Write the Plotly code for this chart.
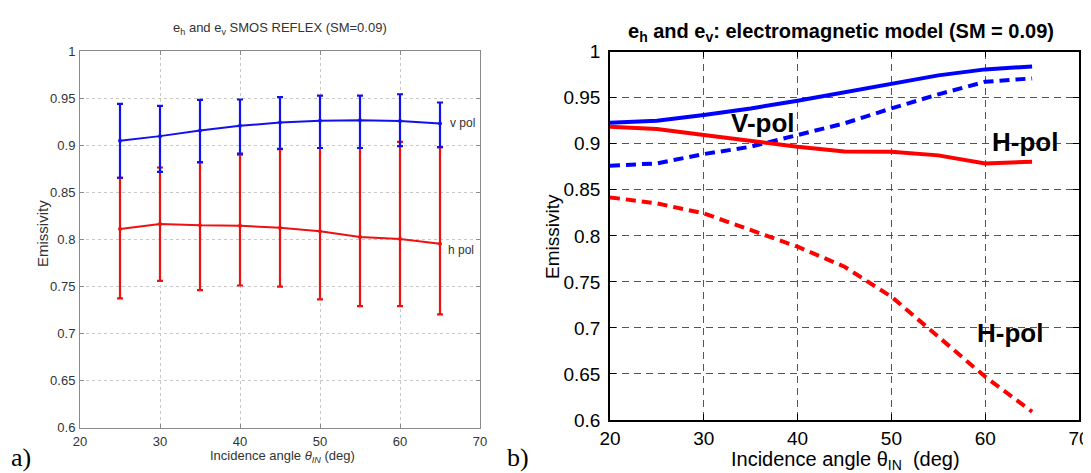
import plotly.graph_objects as go

# ---------------- data ----------------
# a) SMOS REFLEX measurements
smos_angle = [25, 30, 35, 40, 45, 50, 55, 60, 65]
smos_v = [0.9046, 0.9096, 0.9156, 0.9205, 0.9240, 0.9260, 0.9265, 0.9258, 0.9230]
smos_v_hi = [0.9439, 0.9417, 0.9480, 0.9485, 0.9510, 0.9527, 0.9527, 0.9541, 0.9453]
smos_v_lo = [0.8654, 0.8717, 0.8820, 0.8910, 0.8960, 0.8970, 0.8970, 0.8990, 0.8980]
smos_h = [0.8110, 0.8163, 0.8149, 0.8145, 0.8124, 0.8085, 0.8025, 0.8003, 0.7954]
smos_h_hi = [0.8653, 0.8763, 0.8816, 0.8900, 0.8957, 0.8970, 0.8970, 0.9035, 0.8980]
smos_h_lo = [0.7373, 0.7560, 0.7461, 0.7510, 0.7497, 0.7362, 0.7292, 0.7290, 0.7204]

# b) electromagnetic model
model_angle = [20, 25, 30, 35, 40, 45, 50, 55, 60, 65]
model_v_solid = [0.9229, 0.9250, 0.9312, 0.9384, 0.9468, 0.9562, 0.9645, 0.9743, 0.9808, 0.9840]
model_v_dash = [0.8762, 0.8787, 0.8888, 0.8968, 0.9095, 0.9222, 0.9384, 0.9537, 0.9674, 0.9710]
model_h_solid = [0.9185, 0.9160, 0.9095, 0.9033, 0.8968, 0.8917, 0.8914, 0.8874, 0.8787, 0.8805]
model_h_dash = [0.8418, 0.8353, 0.8244, 0.8063, 0.7882, 0.7665, 0.7339, 0.6905, 0.6470, 0.6090]

x_ticks = [20, 30, 40, 50, 60, 70]
y_ticks = [0.6, 0.65, 0.7, 0.75, 0.8, 0.85, 0.9, 0.95, 1]
y_ticktext = ["0.6", "0.65", "0.7", "0.75", "0.8", "0.85", "0.9", "0.95", "1"]

# ---------------- layout helpers ----------------
W, H = 1091, 473
SHIFT = 8  # page body margin offset in the browser
def px(x):
    return (x - SHIFT) / W
def py(y):
    return 1 - (y - SHIFT) / H

BLUE = "#0000ff"
RED = "#ff0000"

fig = go.Figure()

# ---- panel a ----
fig.add_trace(go.Scatter(
    x=smos_angle, y=smos_h, mode="lines+markers", xaxis="x", yaxis="y",
    line=dict(color="#ee1111", width=2), marker=dict(size=4, color="#ee1111"),
    error_y=dict(type="data", symmetric=False,
                 array=[h - v for h, v in zip(smos_h_hi, smos_h)],
                 arrayminus=[v - l for v, l in zip(smos_h, smos_h_lo)],
                 color="#ee1111", thickness=2.2, width=3),
    showlegend=False, hoverinfo="skip"))
fig.add_trace(go.Scatter(
    x=smos_angle, y=smos_v, mode="lines+markers", xaxis="x", yaxis="y",
    line=dict(color="#1111ee", width=2), marker=dict(size=4, color="#1111ee"),
    error_y=dict(type="data", symmetric=False,
                 array=[h - v for h, v in zip(smos_v_hi, smos_v)],
                 arrayminus=[v - l for v, l in zip(smos_v, smos_v_lo)],
                 color="#1111ee", thickness=2.2, width=3),
    showlegend=False, hoverinfo="skip"))

# ---- panel b ----
fig.add_trace(go.Scatter(x=model_angle, y=model_v_solid, mode="lines", xaxis="x2", yaxis="y2",
                         line=dict(color=BLUE, width=4), showlegend=False, hoverinfo="skip"))
fig.add_trace(go.Scatter(x=model_angle, y=model_v_dash, mode="lines", xaxis="x2", yaxis="y2",
                         line=dict(color=BLUE, width=4, dash="10px,6px"), showlegend=False, hoverinfo="skip"))
fig.add_trace(go.Scatter(x=model_angle, y=model_h_solid, mode="lines", xaxis="x2", yaxis="y2",
                         line=dict(color=RED, width=4), showlegend=False, hoverinfo="skip"))
fig.add_trace(go.Scatter(x=model_angle, y=model_h_dash, mode="lines", xaxis="x2", yaxis="y2",
                         line=dict(color=RED, width=4, dash="10px,6px"), showlegend=False, hoverinfo="skip"))

font_a = dict(family="Arial, Liberation Sans, sans-serif", size=13, color="#333333")
font_b = dict(family="Arial, Liberation Sans, sans-serif", size=19, color="#000000")

fig.update_layout(
    template="none",
    width=W, height=H,
    margin=dict(l=0, r=0, t=0, b=0, pad=0, autoexpand=False),
    paper_bgcolor="white", plot_bgcolor="white",
    xaxis=dict(domain=[px(80), px(480)], range=[20, 70], tickvals=x_ticks,
               showgrid=True, gridcolor="#c8c8c8", griddash="dot", gridwidth=1,
               showline=True, linecolor="#8a8a8a", linewidth=1, mirror="ticks",
               ticks="inside", ticklen=4, tickcolor="#8a8a8a",
               tickfont=font_a, ticklabelstandoff=2, zeroline=False, automargin=False,
               anchor="y", fixedrange=True),
    yaxis=dict(domain=[py(427.7), py(51)], range=[0.6, 1], tickvals=y_ticks, ticktext=y_ticktext,
               showgrid=True, gridcolor="#c8c8c8", griddash="dot", gridwidth=1,
               showline=True, linecolor="#8a8a8a", linewidth=1, mirror="ticks",
               ticks="inside", ticklen=4, tickcolor="#8a8a8a",
               tickfont=font_a, ticklabelstandoff=1, zeroline=False, automargin=False,
               anchor="x", fixedrange=True),
    xaxis2=dict(domain=[px(610), px(1079)], range=[20, 70], tickvals=x_ticks,
                showgrid=True, gridcolor="#555555", griddash="7px,5px", gridwidth=1,
                showline=True, linecolor="black", linewidth=1.5, mirror="ticks",
                ticks="inside", ticklen=6, tickcolor="black",
                tickfont=font_b, ticklabelstandoff=0, zeroline=False, automargin=False,
                anchor="y2", fixedrange=True),
    yaxis2=dict(domain=[py(420), py(51.7)], range=[0.6, 1], tickvals=y_ticks, ticktext=y_ticktext,
                showgrid=True, gridcolor="#555555", griddash="7px,5px", gridwidth=1,
                showline=True, linecolor="black", linewidth=1.5, mirror="ticks",
                ticks="inside", ticklen=6, tickcolor="black",
                tickfont=font_b, ticklabelstandoff=4, zeroline=False, automargin=False,
                anchor="x2", fixedrange=True),
)

def ann(text, x, y, size, color="black", bold=False, angle=0, family="Arial, Liberation Sans, sans-serif",
        xref="paper", yref="paper", xanchor="center", yanchor="middle"):
    if bold:
        text = "<b>" + text + "</b>"
    fig.add_annotation(text=text, x=x, y=y, xref=xref, yref=yref, showarrow=False,
                       font=dict(family=family, size=size, color=color), textangle=angle,
                       xanchor=xanchor, yanchor=yanchor)

# panel a texts
ann("e<sub>h</sub> and e<sub>v</sub> SMOS REFLEX (SM=0.09)", px(280), py(28), 13, color="#333333")
ann("Emissivity", px(42), py(234), 15, color="#333333", angle=-90)
ann("Incidence angle <i>θ</i><sub><i>IN</i></sub> (deg)", px(282), py(456), 13, color="#333333")
ann("v pol", 66, 0.9231, 12, color="#333333", xref="x", yref="y", xanchor="left")
ann("h pol", 65.8, 0.7886, 12, color="#333333", xref="x", yref="y", xanchor="left")

# panel b texts
ann("e<sub>h</sub> and e<sub>v</sub>: electromagnetic model (SM = 0.09)", px(841), py(32), 20, bold=True)
ann("Emissivity", px(553), py(237), 19, angle=-90)
ann("Incidence angle θ<sub>IN</sub>  (deg)", px(845), py(460), 20)
ann("V-pol", 36.3, 0.9226, 26, bold=True, xref="x2", yref="y2")
ann("H-pol", 64.2, 0.902, 26, bold=True, xref="x2", yref="y2")
ann("H-pol", 62.6, 0.694, 26, bold=True, xref="x2", yref="y2")

# panel labels
ann("a)", px(21), py(457), 26, family="Times New Roman, Liberation Serif, serif")
ann("b)", px(518), py(457), 26, family="Times New Roman, Liberation Serif, serif")

fig.write_html("out.html")
